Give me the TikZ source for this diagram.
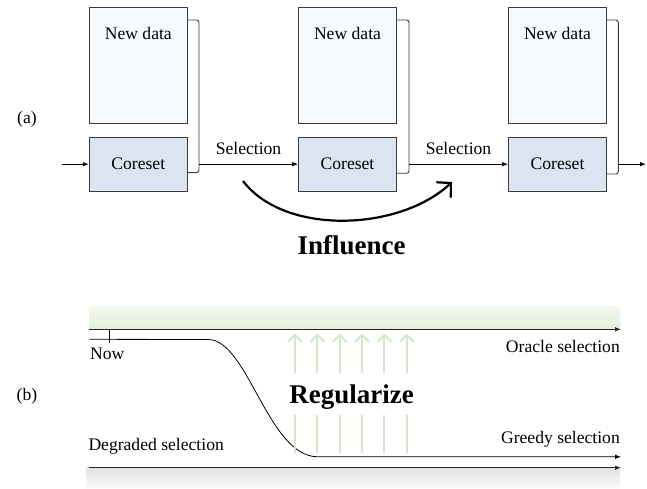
\documentclass[tikz,border=0pt]{standalone}
\usepackage{fontspec}
\setmainfont{Liberation Serif}
\usetikzlibrary{arrows.meta,positioning}
\definecolor{boxline}{RGB}{60,60,60}
\definecolor{corefill}{RGB}{218,229,241}
\definecolor{datafill}{RGB}{246,249,253}
\definecolor{regreen}{RGB}{212,231,202}
\definecolor{bandtop}{RGB}{244,249,239}
\definecolor{bandbot}{RGB}{226,239,216}
\definecolor{graytop}{RGB}{226,226,226}
\definecolor{graybot}{RGB}{252,252,252}
\tikzset{
  txt/.style={font=\fontsize{17.6}{20}\selectfont, inner sep=0pt},
  bigtxt/.style={font=\fontsize{27}{30}\selectfont\bfseries, inner sep=0pt},
  databox/.style={draw=boxline, line width=0.9pt, fill=datafill, minimum width=98pt, minimum height=116pt, inner sep=0pt},
  corebox/.style={draw=boxline, line width=0.9pt, fill=corefill, minimum width=98pt, minimum height=53.7pt, inner sep=0pt, font=\fontsize{17.6}{20}\selectfont},
  flow/.style={line width=0.8pt, -{Latex[length=6pt,width=4.5pt]}},
  bracketline/.style={draw=boxline, line width=0.9pt, rounded corners=2.5pt},
  regarrow/.style={draw=regreen, line width=2pt, -{Straight Barb[length=7pt,width=14pt]}},
  regline/.style={draw=regreen, line width=2pt},
}
\begin{document}
\begin{tikzpicture}[x=1pt,y=-1pt]
\useasboundingbox (0,0) rectangle (647,489);
% ---------- (a)
\node[txt] (la) at (27,119) {(a)};
\foreach \i/\cx in {1/138.3,2/347.5,3/557.5}{
  \node[databox] (nd\i) at (\cx,65.3) {};
  \node[txt, below=20pt of nd\i.north] (ndt\i) {New data};
  \node[corebox] (cs\i) at (\cx,164.2) {Coreset};
}
% brackets
\draw[bracketline] (187.3,20) -- (199,20) -- (199,172.7) -- (187.3,172.7);
\draw[bracketline] (396.7,20) -- (409,20) -- (409,173.3) -- (396.7,173.3);
\draw[bracketline] (606.7,20) -- (618.3,20) -- (618.3,174) -- (606.7,174);
\coordinate (b1) at (199,164.2);
\coordinate (b2) at (409,164.2);
\coordinate (b3) at (618.3,164.2);
\coordinate (in0) at (61.7,164.2);
\coordinate (out3) at (646,164.2);
\draw[flow] (in0) -- (cs1.west);
\draw[flow] (b1) -- node[txt, above=9pt] (sel1) {Selection} (cs2.west);
\draw[flow] (b2) -- node[txt, above=9pt] (sel2) {Selection} (cs3.west);
\draw[flow] (b3) -- (out3);
% influence
\coordinate (inf0) at (243,181);
\coordinate (inf1) at (452,182);
\draw[line width=2.2pt, -{Straight Barb[length=10pt,width=21pt]}] (inf0) .. controls (285,236) and (400,231) .. (inf1);
\node[bigtxt] (infl) at (351.7,245) {Influence};
% ---------- (b)
\node[txt] (lb) at (27,396) {(b)};
\shade[top color=bandtop, bottom color=bandbot] (89.3,306) rectangle (620,329.3);
\shade[top color=graytop, bottom color=graybot] (86.7,467.7) rectangle (620,489);
\coordinate (o0) at (89.3,329.3);
\coordinate (o1) at (621,329.3);
\draw[flow, draw=black!85] (o0) -- (o1);
\coordinate (d0) at (89.3,467.7);
\coordinate (d1) at (621,467.7);
\draw[flow, draw=black!85] (d0) -- (d1);
\coordinate (now) at (109,329.3);
\coordinate (nowb) at (109,343.3);
\draw[line width=0.8pt] (now) -- (nowb);
\coordinate (g0) at (89.3,339.3);
\coordinate (g1) at (621,456.8);
\draw[flow] (g0) -- (208,339.5) .. controls (248,339.5) and (268,457) .. (318,456.8) -- (g1);
% green arrows
\foreach \k in {0,...,5}{
  \pgfmathsetmacro{\xx}{295+22.35*\k}
  \draw[regarrow] (\xx,373.3) -- (\xx,333.5);
  \draw[regline] (\xx,415) -- (\xx,453.3);
}
\node[bigtxt, fill=white, inner sep=0pt] (reg) at (351.7,396.7) {Regularize};
\node[txt, anchor=west] (nowt) at (90,354) {Now};
\node[txt, anchor=east] (ora) at (620,346.7) {Oracle selection};
\node[txt, anchor=east] (gre) at (620,439.3) {Greedy selection};
\node[txt, anchor=west] (deg) at (88.3,446.7) {Degraded selection};
\end{tikzpicture}
\end{document}
